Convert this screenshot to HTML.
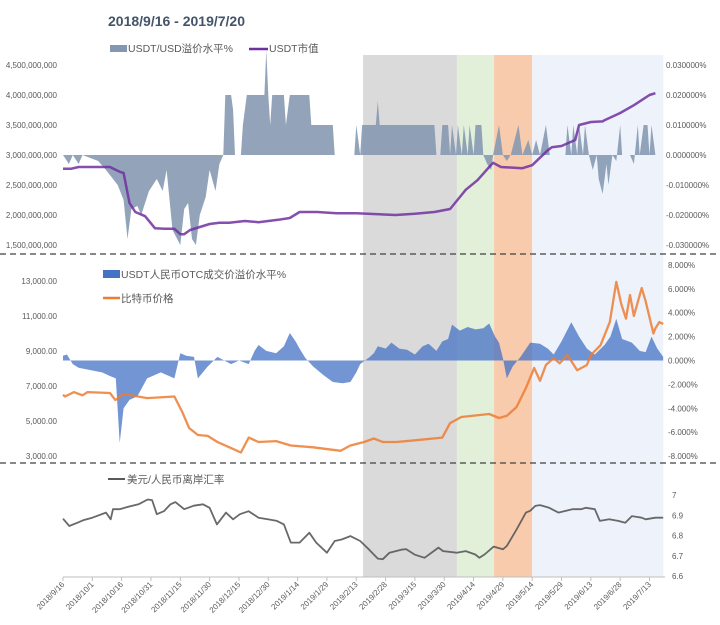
<!DOCTYPE html>
<html><head><meta charset="utf-8">
<style>
html,body{margin:0;padding:0;background:#fff;}
svg{display:block;font-family:"Liberation Sans","Noto Sans CJK SC",sans-serif;}
.ax{font-size:8px;fill:#595959;}
.lg{font-size:10.5px;fill:#595959;}
</style></head>
<body>
<svg id="chart" width="720" height="625" viewBox="0 0 720 625" xmlns="http://www.w3.org/2000/svg">
<g id="shades"></g>
<g id="series"></g>
<g id="axes"></g>
<text x="108" y="26" font-size="14" font-weight="bold" fill="#44546a">2018/9/16 - 2019/7/20</text>
<g><rect x="110" y="45" width="17" height="7" fill="#8497b0"/><text class="lg" x="128" y="52">USDT/USD溢价水平%</text></g>
<g><line x1="249" y1="49" x2="268" y2="49" stroke="#7030a0" stroke-width="2.5"/><text class="lg" x="269" y="52">USDT市值</text></g>
<g><rect x="103" y="270" width="17" height="8" fill="#4472c4"/><text class="lg" x="121" y="278">USDT人民币OTC成交价溢价水平%</text></g>
<g><line x1="103" y1="298" x2="120" y2="298" stroke="#ed7d31" stroke-width="2.5"/><text class="lg" x="121" y="302">比特币价格</text></g>
<g><line x1="108" y1="479" x2="125" y2="479" stroke="#595959" stroke-width="2"/><text class="lg" x="127" y="483">美元/人民币离岸汇率</text></g>
</svg>
<script>
// ---- data ----
var shadeStart = [153.5, 201.5, 220.5, 240];
var shadeEnd = [201.5, 220.5, 240, 307];
var shadeNames = ['shade-period-1','shade-period-2','shade-period-3','shade-period-4'];
var shadeColors = ['#dadada','#e2efd9','#f8cbad','#eef2fa'];

var tickLabels = ['2018/9/16','2018/10/1','2018/10/16','2018/10/31','2018/11/15','2018/11/30','2018/12/15','2018/12/30','2019/1/14','2019/1/29','2019/2/13','2019/2/28','2019/3/15','2019/3/30','2019/4/14','2019/4/29','2019/5/14','2019/5/29','2019/6/13','2019/6/28','2019/7/13'];
var tickDays = [0,15,30,45,60,75,90,105,120,135,150,165,180,195,210,225,240,255,270,285,300];

var capDays = [0,4,8,24,29,31,34,37,42,47,52,57,60,62,65,70,75,80,85,93,100,110,116,121,130,140,150,170,180,190,198,203,206,212,218,220,224,235,240,248,250,255,262,264,270,276,277,285,292,300,303];
var capVals = [2.77,2.77,2.8,2.8,2.72,2.7,2.2,2.05,1.98,1.78,1.77,1.77,1.68,1.68,1.75,1.8,1.85,1.87,1.87,1.9,1.88,1.92,1.95,2.05,2.05,2.03,2.03,2.0,2.02,2.05,2.1,2.3,2.42,2.58,2.8,2.87,2.8,2.78,2.83,3.08,3.13,3.15,3.25,3.5,3.55,3.56,3.58,3.7,3.83,4.0,4.03];

var premDays = [0,3,5,8,10,18,22,28,31,33,35,38,40,44,48,51,53,56,60,62,64,66,68,70,73,75,78,80,82,83,86,87,88,91,92,94,103,104,105,106,107,113,114,116,126,127,138,139,149,150,152,153,160,161,162,190,191,193,194,197,198,199,201,202,204,205,207,208,210,211,214,215,217,219,220,223,225,227,229,233,235,238,240,242,244,247,249,257,258,260,261,263,264,266,267,269,271,273,274,276,278,279,281,283,285,286,290,292,294,295,297,299,300,301,303,305];
var premVals = [0,-3,0,-3,0,-2,-5,-10,-15,-28,-18,-17,-20,-12,-8,-12,-5,-25,-30,-18,-16,-28,-30,-20,-14,-5,-12,-3,0,20,20,15,0,0,10,20,20,35,20,10,20,20,10,20,20,10,10,0,0,10,0,10,10,18,10,10,0,0,10,10,0,10,0,10,0,10,0,10,0,10,10,0,-3,-5,0,10,0,-2,0,10,0,5,0,5,0,10,0,0,10,0,10,0,10,0,10,0,-5,0,-8,-13,-3,-10,0,-2,10,0,0,-3,10,0,10,10,0,10,0,0];

var otcDays = [0,2,5,8,14,20,24,27,29,31,34,38,43,50,57,60,63,67,69,74,79,86,90,95,98,100,104,109,113,116,119,121,124,128,133,138,143,147,150,152,157,159,161,165,168,172,176,180,184,187,191,194,197,199,203,207,211,215,218,221,223,225,227,230,234,239,244,248,251,255,260,264,268,272,277,280,283,286,291,295,298,301,304,307];
var otcVals = [0.4,0.5,-0.3,-0.6,-0.8,-1.0,-1.3,-1.5,-6.9,-4,-3.3,-3,-1.5,-1.0,-1.5,0.6,0.4,0.3,-1.5,-0.5,0.3,-0.3,0,-0.3,0.8,1.3,0.8,0.6,1.2,2.3,1.6,1.0,0.2,-0.5,-1.2,-1.8,-1.9,-1.8,-1.0,-0.3,0.3,0.6,1.2,1.0,1.5,1.0,0.9,0.5,1.2,1.4,0.8,1.6,1.8,3.0,2.5,2.8,2.6,2.7,3.1,2.0,1.5,0.2,-1.5,-0.5,0.3,1.5,1.4,1.0,0.5,1.6,3.2,2.0,1.0,0.5,1.3,2.0,3.5,1.8,1.5,0.8,0.7,2.0,1.0,0.3];

var btcDays = [0,1,5.5,10,12.6,24,26.8,31,43,57,61,64.5,69,74,79,86,91,95,100,109,116.5,128,142,147,154,159,163.6,170.6,180,194,198,203.8,218,223,227,232,237,241,244,247,251,254,258,263,268,270,275,279.7,283,285.5,288,290,292,296,298,302,303,305,307];
var btcVals = [6500,6400,6650,6470,6650,6600,6200,6550,6310,6400,5510,4600,4200,4150,3800,3450,3200,4050,3800,3850,3600,3500,3300,3600,3800,4000,3800,3800,3900,4050,4880,5230,5400,5170,5300,5800,6940,8030,7300,8200,8600,8300,8770,7900,8200,8770,9340,10650,12950,11700,10850,12200,11000,12600,11850,10000,10300,10650,10550];

var cnhDays = [0,3.2,7.9,10.3,15,22,24.4,25.6,29,32.7,38.6,43.3,45.6,48,51.6,55,57.5,62,66.9,71.6,75,78.7,83.4,87,90.5,95,100,104.7,109.4,113,116.5,121,126,129.5,135,139,142.5,147,152,156.6,161,163.6,167,173,175.5,180,184.9,189.6,192,194.4,201.4,206,210.9,213,215.6,220.3,225,227,232,236.8,239,241.6,244,248.7,253.4,260.5,265,267.5,272,274.6,279.4,284,287.6,291,296,298,303,307];
var cnhVals = [6.883,6.847,6.865,6.875,6.888,6.913,6.88,6.93,6.93,6.94,6.954,6.978,6.975,6.905,6.92,6.954,6.965,6.93,6.947,6.954,6.937,6.855,6.913,6.88,6.905,6.92,6.888,6.88,6.872,6.855,6.765,6.765,6.814,6.765,6.715,6.773,6.78,6.797,6.773,6.73,6.686,6.683,6.715,6.73,6.733,6.705,6.69,6.723,6.74,6.723,6.715,6.723,6.706,6.69,6.706,6.745,6.732,6.748,6.83,6.913,6.922,6.946,6.95,6.937,6.913,6.93,6.93,6.937,6.93,6.872,6.88,6.872,6.863,6.896,6.888,6.88,6.888,6.888];

var capTicks = ['4,500,000,000','4,000,000,000','3,500,000,000','3,000,000,000','2,500,000,000','2,000,000,000','1,500,000,000'];
var capTickVals = [4.5,4.0,3.5,3.0,2.5,2.0,1.5];
var premTicks = ['0.030000%','0.020000%','0.010000%','0.000000%','-0.010000%','-0.020000%','-0.030000%'];
var premTickVals = [30,20,10,0,-10,-20,-30];
var btcTicks = ['13,000.00','11,000.00','9,000.00','7,000.00','5,000.00','3,000.00'];
var btcTickVals = [13000,11000,9000,7000,5000,3000];
var otcTicks = ['8.000%','6.000%','4.000%','2.000%','0.000%','-2.000%','-4.000%','-6.000%','-8.000%'];
var otcTickVals = [8,6,4,2,0,-2,-4,-6,-8];
var cnhTicks = ['7','6.9','6.8','6.7','6.6'];
var cnhTickVals = [7,6.9,6.8,6.7,6.6];

// ---- scales ----
var NS='http://www.w3.org/2000/svg';
function xS(d){return 63 + d*1.955;}
function yCap(v){return 155 - (v-3.0)*60;}
function yPrem(v){return 155 - v*3.0;}
function yBtc(v){return 281 + (13000-v)*35/2000;}
function yOtc(v){return 360.5 - v*11.95;}
function yCnh(v){return 495 + (7-v)*202.5;}
function mk(tag, attrs, parent){var e=document.createElementNS(NS,tag);for(var k in attrs)e.setAttribute(k,attrs[k]);parent.appendChild(e);return e;}

var shades=document.getElementById('shades');
var series=document.getElementById('series');
var axes=document.getElementById('axes');

for(var i=0;i<shadeStart.length;i++){
  var r=mk('rect',{x:xS(shadeStart[i]),y:55,width:xS(shadeEnd[i])-xS(shadeStart[i]),height:522,fill:shadeColors[i]},shades);
  
  
}

function areaPath(days, vals, xf, yf, base){
  var d='M'+xf(days[0])+','+base;
  for(var i=0;i<days.length;i++) d+=' L'+xf(days[i]).toFixed(1)+','+yf(vals[i]).toFixed(1);
  d+=' L'+xf(days[days.length-1])+','+base+' Z';
  return d;
}
function linePath(days, vals, xf, yf){
  var d='';
  for(var i=0;i<days.length;i++) d+=(i?' L':'M')+xf(days[i]).toFixed(1)+','+yf(vals[i]).toFixed(1);
  return d;
}

var a1=mk('path',{d:areaPath(premDays,premVals,xS,yPrem,155),fill:'#8497b0','fill-opacity':0.88},series);


var l1=mk('path',{d:linePath(capDays,capVals,xS,yCap),fill:'none',stroke:'#7030a0','stroke-width':2.5,'stroke-opacity':0.85,'stroke-linejoin':'round'},series);


var a2=mk('path',{d:areaPath(otcDays,otcVals,xS,yOtc,360.5),fill:'#4472c4','fill-opacity':0.75},series);


var l2=mk('path',{d:linePath(btcDays,btcVals,xS,yBtc),fill:'none',stroke:'#ed7d31','stroke-width':2.3,'stroke-opacity':0.85,'stroke-linejoin':'round'},series);


var l3=mk('path',{d:linePath(cnhDays,cnhVals,xS,yCnh),fill:'none',stroke:'#595959','stroke-width':1.8,'stroke-opacity':0.9,'stroke-linejoin':'round'},series);



// separators
[254,463].forEach(function(y){
  var s=mk('line',{x1:0,y1:y,x2:720,y2:y,stroke:'#404040','stroke-width':1.2,'stroke-dasharray':'6,4'},axes);
  
  
});

function tickCol(labels, vals, yf, x, anchor, name){
  for(var i=0;i<labels.length;i++){
    var t=mk('text',{x:x,y:yf(vals[i])+3,'text-anchor':anchor,'class':'ax'},axes);
    t.textContent=labels[i];
    
    
  }
}
tickCol(capTicks,capTickVals,yCap,57,'end','cap-axis-label');
tickCol(premTicks,premTickVals,yPrem,666,'start','premium-axis-label');
tickCol(btcTicks,btcTickVals,yBtc,57,'end','btc-axis-label');
tickCol(otcTicks,otcTickVals,yOtc,668,'start','otc-axis-label');
tickCol(cnhTicks,cnhTickVals,yCnh,672,'start','cnh-axis-label');

var ax=mk('line',{x1:63,y1:577,x2:665,y2:577,stroke:'#bfbfbf','stroke-width':1},axes);


for(var i=0;i<tickDays.length;i++){
  var x=xS(tickDays[i]);
  mk('line',{x1:x,y1:577,x2:x,y2:581,stroke:'#bfbfbf'},axes);
  var t=mk('text',{x:x+2,y:585,'text-anchor':'end','class':'ax',transform:'rotate(-45 '+(x+2)+' 585)'},axes);
  t.textContent=tickLabels[i];
  
  
}
</script>
</body></html>
